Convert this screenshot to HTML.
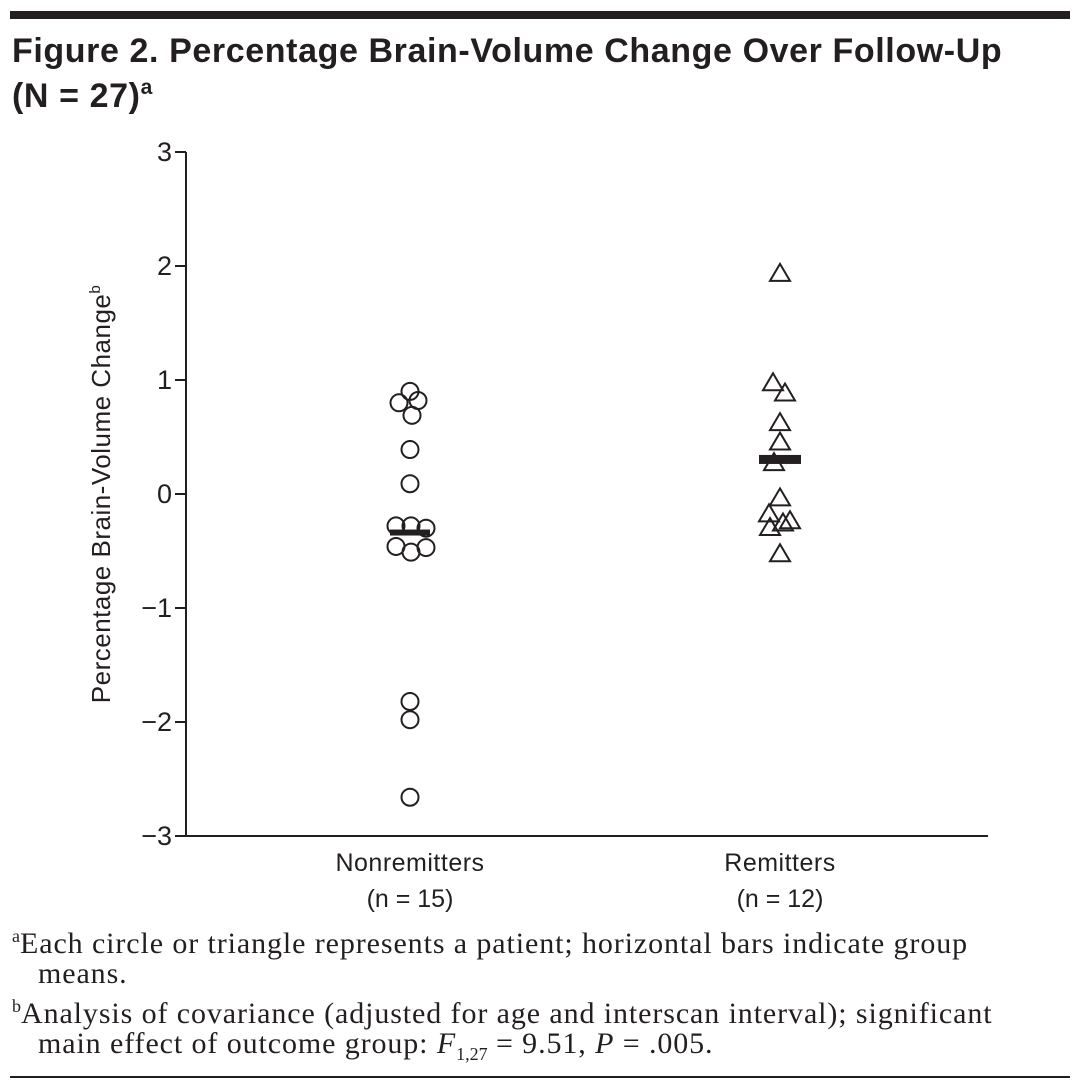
<!DOCTYPE html>
<html><head><meta charset="utf-8"><style>
body{margin:0;background:#fff;width:1080px;height:1090px;overflow:hidden;position:relative;font-family:"Liberation Sans",sans-serif;color:#231f20}
.rule{position:absolute;left:10px;width:1060px;background:#231f20}
.title{position:absolute;left:12px;top:29px;font-weight:bold;font-size:34px;line-height:45px;letter-spacing:0.6px;white-space:nowrap}
.title sup{font-size:21px;vertical-align:13px;line-height:0}
.fn{position:absolute;left:12px;font-family:"Liberation Serif",serif;font-size:30px;line-height:30px;letter-spacing:0.9px}
.fn sup{font-size:18px;vertical-align:11px;line-height:0;letter-spacing:0}
.fn sub{font-size:18px;vertical-align:-7px;line-height:0;letter-spacing:0}
</style></head><body>
<div class="rule" style="top:11px;height:8px"></div>
<div class="title">Figure 2. Percentage Brain-Volume Change Over Follow-Up<br>(N = 27)<sup>a</sup></div>
<svg id="chart" width="1080" height="920" style="position:absolute;left:0;top:0"></svg>
<div class="fn" style="top:929px;padding-left:26px;text-indent:-26px;width:1000px"><sup>a</sup>Each circle or triangle represents a patient; horizontal bars indicate group means.</div>
<div class="fn" style="top:999px;padding-left:26px;text-indent:-26px;width:1010px"><sup>b</sup>Analysis of covariance (adjusted for age and interscan interval); significant main effect of outcome group: <i>F</i><sub>1,27</sub> = 9.51, <i>P</i> = .005.</div>
<div class="rule" style="top:1076px;height:2px"></div>
<script>
const yTicks=[3,2,1,0,-1,-2,-3];
const yTickLabels=["3","2","1","0","\u22121","\u22122","\u22123"];
const groups=["Nonremitters","Remitters"];
const groupN=["(n = 15)","(n = 12)"];
const nonremValues=[0.90,0.80,0.82,0.69,0.39,0.09,-0.28,-0.28,-0.30,-0.46,-0.51,-0.47,-1.82,-1.98,-2.66];
const nonremJitter=[0,-11,8,2,0,0,-14,1,16,-14,1,16,0,0,0];
const remValues=[1.94,0.98,0.89,0.63,0.46,0.28,-0.03,-0.17,-0.23,-0.25,-0.29,-0.52];
const remJitter=[0,-7,5,0,0,-6,0,-11,10,3,-10,0];

const NS="http://www.w3.org/2000/svg";
const svg=document.getElementById('chart');
const X0=186,X1=988,Y0=152,Y1=836;
const y=v=>Y0+(3-v)/6*(Y1-Y0);
const gx=i=>[410,780][i];
function mk(tag,attrs,parent){const e=document.createElementNS(NS,tag);for(const k in attrs)e.setAttribute(k,attrs[k]);(parent||svg).appendChild(e);return e;}
let e;
e=mk('line',{x1:X0,y1:Y0,x2:X0,y2:Y1+1,stroke:'#231f20','stroke-width':2});


e=mk('line',{x1:X0-1,y1:Y1,x2:X1,y2:Y1,stroke:'#231f20','stroke-width':2});


yTicks.forEach((t,i)=>{
  e=mk('line',{x1:X0-11,y1:y(t),x2:X0,y2:y(t),stroke:'#231f20','stroke-width':2});
  
  
  e=mk('text',{x:X0-14,y:y(t)+9,'text-anchor':'end','font-size':27,fill:'#231f20'});
  e.textContent=yTickLabels[i];
  
  
});
e=mk('text',{x:0,y:0,'text-anchor':'middle','font-size':26,'letter-spacing':0.5,fill:'#231f20',transform:'translate(110,494) rotate(-90)'});
e.innerHTML='Percentage Brain-Volume Change<tspan font-size="15" dy="-10">b</tspan>';


groups.forEach((g,i)=>{
  e=mk('text',{x:gx(i),y:871,'text-anchor':'middle','font-size':25,'letter-spacing':0.5,fill:'#231f20'});
  e.textContent=g;
  
  
  e=mk('text',{x:gx(i),y:907,'text-anchor':'middle','font-size':25,fill:'#231f20'});
  e.textContent=groupN[i];
  
  
});
const mean=a=>a.reduce((s,v)=>s+v,0)/a.length;
e=mk('rect',{x:gx(0)-20,y:y(mean(nonremValues))-3,width:40,height:6,fill:'#231f20'});


e=mk('rect',{x:gx(1)-21,y:y(mean(remValues))-4,width:42,height:9,fill:'#231f20'});


nonremValues.forEach((v,i)=>{
  e=mk('circle',{cx:gx(0)+nonremJitter[i],cy:y(v),r:8.5,fill:'none',stroke:'#231f20','stroke-width':2});
  
  
});
remValues.forEach((v,i)=>{
  const cx=gx(1)+remJitter[i],cy=y(v);
  e=mk('polygon',{points:`${cx},${cy-9} ${cx+10},${cy+8} ${cx-10},${cy+8}`,fill:'none',stroke:'#231f20','stroke-width':2});
  
  
});
</script>
</body></html>
